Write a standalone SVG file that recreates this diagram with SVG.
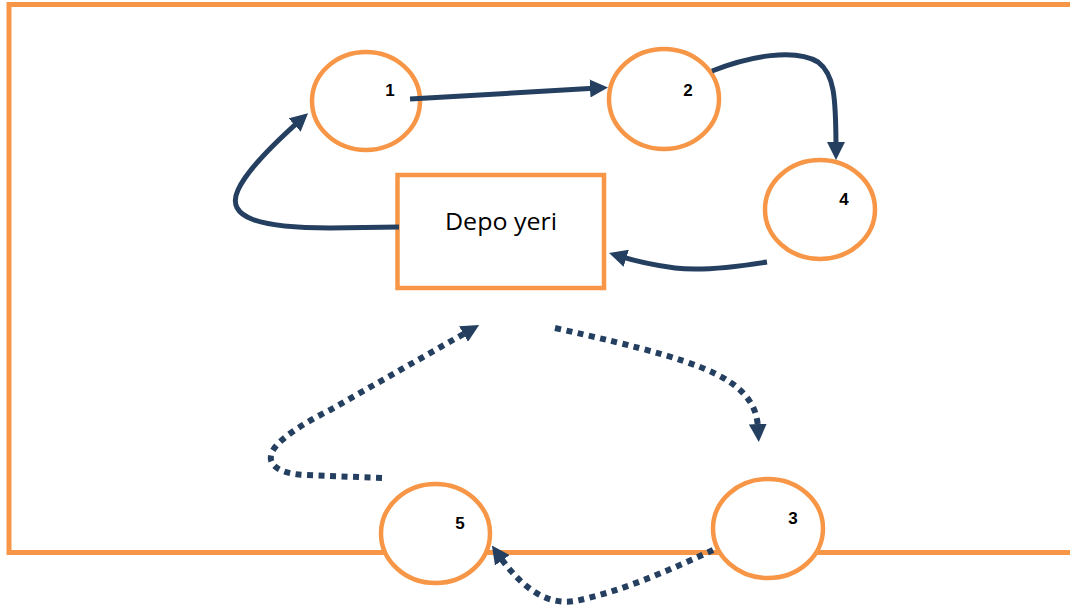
<svg xmlns="http://www.w3.org/2000/svg" width="1070" height="606" viewBox="0 0 1070 606">
<style>
.frame{fill:none;stroke:#F79646;stroke-width:5}
.node{fill:#FFFFFF;stroke:#F79646;stroke-width:4.5}
.lbl{font-family:"Liberation Sans",Arial,sans-serif;font-weight:bold;font-size:17px;fill:#000;text-anchor:middle}
.main{font-family:"Open Sans","Liberation Sans",Arial,sans-serif;font-size:23px;fill:#000;text-anchor:middle}
.solid{fill:none;stroke:#243F60;stroke-width:5}
.dot{fill:none;stroke:#243F60;stroke-width:6;stroke-dasharray:6 5.5}
</style>
<defs>
<marker id="ah" markerUnits="userSpaceOnUse" markerWidth="18" markerHeight="18" viewBox="0 0 18 18" refX="8" refY="9" orient="auto">
<path d="M0,0 L18,9 L0,18 Z" fill="#243F60"/>
</marker>
<marker id="ahd" markerUnits="userSpaceOnUse" markerWidth="18" markerHeight="18" viewBox="0 0 18 18" refX="4" refY="9" orient="auto">
<path d="M0,0 L18,9 L0,18 Z" fill="#243F60"/>
</marker>
</defs>
<path class="frame" d="M1075,4.5 L9,4.5 L9,552.5 L1075,552.5"/>
<g id="node-depo">
<rect class="node" x="397.5" y="175" width="206.5" height="113"/>
<text class="main" x="501" y="230" textLength="112" lengthAdjust="spacingAndGlyphs">Depo yeri</text>
</g>
<g id="node-1">
<ellipse class="node" cx="366" cy="101" rx="54" ry="49"/>
<text class="lbl" x="390" y="96">1</text>
</g>
<g id="node-2">
<ellipse class="node" cx="664" cy="99" rx="55" ry="50"/>
<text class="lbl" x="688" y="96">2</text>
</g>
<g id="node-4">
<ellipse class="node" cx="820" cy="209.5" rx="55" ry="49.5"/>
<text class="lbl" x="844" y="205">4</text>
</g>
<g id="node-5">
<ellipse class="node" cx="435.5" cy="533.5" rx="54.5" ry="49.5"/>
<text class="lbl" x="460" y="529">5</text>
</g>
<g id="node-3">
<ellipse class="node" cx="768" cy="528.5" rx="55" ry="49.5"/>
<text class="lbl" x="793" y="524">3</text>
</g>
<g id="connectors">
<path class="solid" marker-end="url(#ah)" d="M399,227 L330,228 C260,228 225,218 238,190 C246,172 270,147 300.6,119.8"/>
<path class="solid" marker-end="url(#ah)" d="M410,99 L598,88"/>
<path class="solid" marker-end="url(#ah)" d="M712,71 C750,56 795,48 818,62 C834,74 836,95 836,150"/>
<path class="solid" marker-end="url(#ah)" d="M767,262 C730,268 700,271 675,268 C652,265 635,261 618.6,255.9"/>
<path class="dot" marker-end="url(#ahd)" d="M382,478 L305,475 C282,474 266,466 272,452 C278,440 300,425 330,410 L467,332"/>
<path class="dot" marker-end="url(#ahd)" d="M555,328 C640,347 700,362 730,382 C750,396 757,410 758,428"/>
<path class="dot" marker-end="url(#ahd)" d="M713,550 C670,570 620,592 575,601 C545,606 520,585 500,557"/>
</g>
</svg>
